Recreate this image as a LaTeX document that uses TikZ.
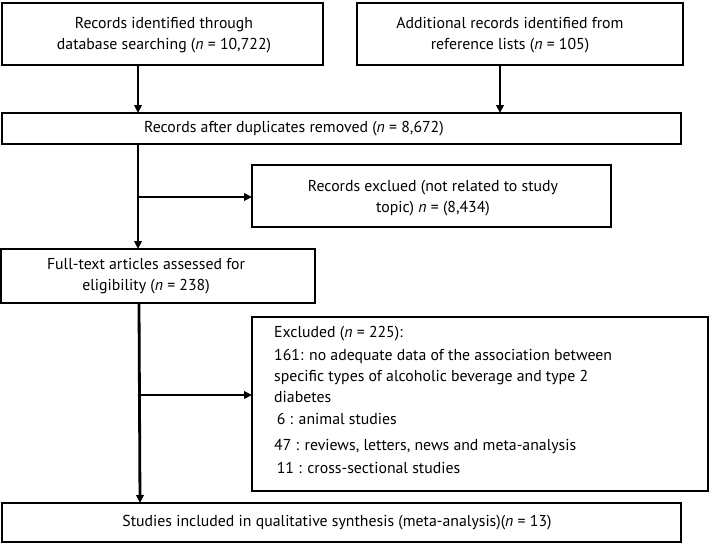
\documentclass[tikz,border=0pt]{standalone}
\usepackage{fontspec}
\setmainfont{PT Sans}
\usetikzlibrary{arrows.meta}
\begin{document}
\begin{tikzpicture}[x=1pt,y=-1pt,
  box/.style={draw=black,line width=2.2pt},
  txt/.style={font=\fontsize{15.8}{20.5}\selectfont,align=center,inner sep=0pt},
  flow/.style={line width=2.8pt,-{Triangle[length=8pt,width=7.5pt]}}]
\useasboundingbox (0,0) rectangle (709,544);
% boxes
\draw[box] (2,3) rectangle (323,65);
\node[txt] (A) at (164,35) {Records identified through\\database searching (\textit{n} = 10,722)};
\draw[box] (357,3) rectangle (683,65);
\node[txt] (B) at (510,35) {Additional records identified from\\reference lists (\textit{n} = 105)};
\draw[box] (2,113) rectangle (681,144);
\node[txt] (C) at (294,129) {Records after duplicates removed (\textit{n} = 8,672)};
\draw[box] (252,165) rectangle (611,227);
\node[txt] (D) at (433,198) {Records exclued (not related to study\\topic) \textit{n} = (8,434)};
\draw[box] (1,249) rectangle (315,303);
\node[txt] (E) at (146,276) {Full-text articles assessed for\\eligibility (\textit{n} = 238)};
\draw[box] (252,317) rectangle (708,491);
\node[txt,font=\fontsize{15.8}{21}\selectfont,align=left,anchor=north west] (F) at (274,326) {Excluded (\textit{n} = 225):\\[2pt]
161: no adequate data of the association between\\
specific types of alcoholic beverage and type 2\\
diabetes\\[1.5pt]
\,6 : animal studies\\[4.5pt]
47 : reviews, letters, news and meta-analysis\\[2.5pt]
\,11 : cross-sectional studies};
\draw[box] (2,503) rectangle (681,542);
\node[txt] (G) at (337,523) {Studies included in qualitative synthesis (meta-analysis)(\textit{n} = 13)};
% connector coordinates
\coordinate (a1) at (138,65);
\coordinate (a2) at (138,113);
\coordinate (b1) at (500,65);
\coordinate (b2) at (500,113);
\coordinate (c1) at (138,144);
\coordinate (c2) at (138,249);
\coordinate (cd) at (138,197);
\coordinate (dl) at (252,197);
\coordinate (e1) at (139,303);
\coordinate (e2) at (140,503);
\coordinate (ef) at (139.5,395);
\coordinate (fl) at (252,395);
\draw[flow] (a1) -- (a2);
\draw[flow] (b1) -- (b2);
\draw[flow] (c1) -- (c2);
\draw[flow] (cd) -- (dl);
\draw[flow] (e1) -- (e2);
\draw[flow] (ef) -- (fl);
\end{tikzpicture}
\end{document}
